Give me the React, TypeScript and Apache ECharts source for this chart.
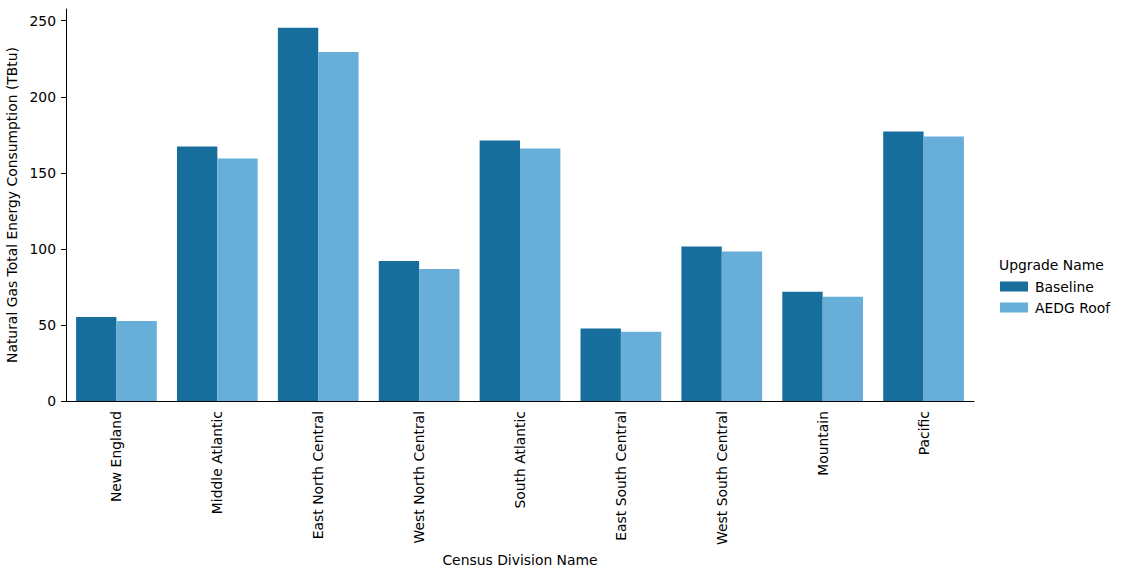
import React, { useEffect, useRef } from "react";
import * as echarts from "echarts";

const categories = [
  "New England",
  "Middle Atlantic",
  "East North Central",
  "West North Central",
  "South Atlantic",
  "East South Central",
  "West South Central",
  "Mountain",
  "Pacific",
];
const baseline = [55.3, 167.3, 245.4, 92.1, 171.2, 47.6, 101.5, 71.9, 177.2];
const aedgRoof = [52.6, 159.4, 229.5, 86.8, 166.0, 45.6, 98.2, 68.6, 173.9];
const yTicks = [0, 50, 100, 150, 200, 250];

const FONT = "DejaVu Sans";
const FS = 13.9;

export default function App() {
  const ref = useRef<HTMLDivElement>(null);
  useEffect(() => {
    if (!ref.current) return;
    const chart = echarts.init(ref.current, undefined, { renderer: "svg" });
    chart.setOption({
      animation: false,
      textStyle: { fontFamily: FONT },
      grid: { left: 66, right: 147, top: 9, bottom: 173, containLabel: false, outerBoundsMode: "none" },
      legend: {
        orient: "vertical",
        left: 995,
        top: 274,
        itemWidth: 28,
        itemHeight: 10,
        itemGap: 6,
        icon: "rect",
        textStyle: { fontFamily: FONT, fontSize: FS, lineHeight: 15, color: "#000", padding: [0, 0, 0, 2] },
        data: ["Baseline", "AEDG Roof"],
      },
      graphic: [
        {
          type: "text",
          left: 999,
          top: 258,
          style: { text: "Upgrade Name", fontFamily: FONT, fontSize: FS, fill: "#000" },
        },
      ],
      xAxis: {
        type: "category",
        data: categories,
        name: "Census Division Name",
        nameLocation: "middle",
        nameGap: 143,
        nameTextStyle: { fontFamily: FONT, fontSize: FS, color: "#000" },
        axisLine: { lineStyle: { color: "#000", width: 1 } },
        axisTick: { alignWithLabel: true, length: 5, lineStyle: { color: "#000" } },
        axisLabel: { rotate: 90, fontFamily: FONT, fontSize: FS, color: "#000", margin: 10, interval: 0 },
      },
      yAxis: {
        type: "value",
        min: 0,
        max: 257.7,
        interval: 50,
        name: "Natural Gas Total Energy Consumption (TBtu)",
        nameLocation: "middle",
        nameGap: 41,
        nameTextStyle: { fontFamily: FONT, fontSize: FS, color: "#000" },
        axisLine: { show: true, lineStyle: { color: "#000", width: 1 } },
        axisTick: { show: true, length: 5, lineStyle: { color: "#000" } },
        axisLabel: {
          fontFamily: FONT,
          fontSize: FS,
          color: "#000",
          margin: 10,
          showMaxLabel: false,
          formatter: (v: number) => (yTicks.includes(v) ? String(v) : ""),
        },
        splitLine: { show: false },
      },
      series: [
        {
          name: "Baseline",
          type: "bar",
          data: baseline,
          itemStyle: { color: "#176d9c" },
          barGap: "0%",
          barCategoryGap: "20%",
        },
        {
          name: "AEDG Roof",
          type: "bar",
          data: aedgRoof,
          itemStyle: { color: "#67aed8" },
          barGap: "0%",
          barCategoryGap: "20%",
        },
      ],
    });
    return () => chart.dispose();
  }, []);
  return (
    <div
      ref={ref}
      style={{ position: "fixed", left: 0, top: 0, width: 1121, height: 574, background: "#fff" }}
    />
  );
}
